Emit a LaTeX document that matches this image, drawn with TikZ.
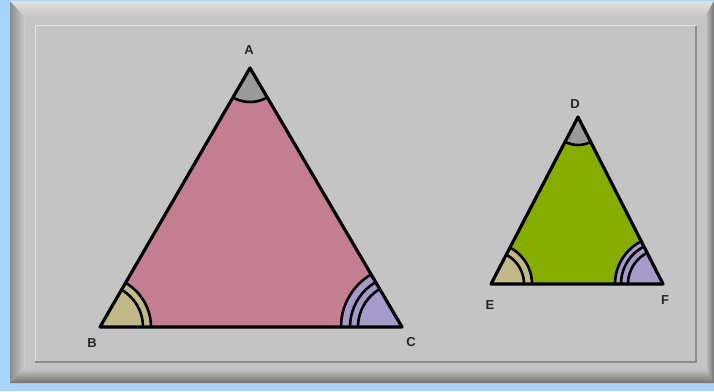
\documentclass[tikz,border=0pt]{standalone}
\usepackage{fontspec}
\setmainfont{Liberation Sans}
\begin{document}
\begin{tikzpicture}[x=1pt,y=1pt,
  lbl/.style={font=\fontsize{13}{15}\selectfont\bfseries, text=black!85, inner sep=0pt},
  tri/.style={draw=black, line width=3.2pt, line join=round},
  arcl/.style={draw=black, line width=2.6pt}]
\definecolor{sky}{HTML}{A8D3FA}
\definecolor{panel}{HTML}{C4C4C4}
\definecolor{pinkf}{HTML}{C47E92}
\definecolor{tanf}{HTML}{C2B98B}
\definecolor{lavf}{HTML}{A69BC8}
\definecolor{grayf}{HTML}{9A9A9A}
\definecolor{greenf}{HTML}{87AD00}
\useasboundingbox (0,0) rectangle (714,391);
\fill[sky] (0,0) rectangle (714,391);
% frame
\fill[panel] (10,8) rectangle (714,390);
\shade[left color=black!45, right color=black!20] (10,8) -- (10,390) -- (25,374) -- (25,21) -- cycle;
\shade[top color=black!12, bottom color=black!22] (10,390) -- (714,390) -- (705,374) -- (25,374) -- cycle;
\shade[left color=black!22, right color=black!55] (714,390) -- (714,8) -- (705,21) -- (705,374) -- cycle;
\shade[top color=black!25, bottom color=black!55] (10,8) -- (714,8) -- (705,21) -- (25,21) -- cycle;
% inner panel
\draw[black!12, line width=1pt] (35,29) -- (35,365) -- (696,365);
\draw[black!45, line width=1.2pt] (35,29) -- (696,29) -- (696,365);
% triangle ABC
\coordinate (A) at (250,323);
\coordinate (B) at (100,64);
\coordinate (C) at (402,64);
\fill[pinkf] (A) -- (B) -- (C) -- cycle;
\begin{scope}
  \clip (A) -- (B) -- (C) -- cycle;
  \fill[grayf] (A) circle[radius=34];
  \draw[arcl] (A) circle[radius=34];
  \fill[tanf] (B) circle[radius=51];
  \draw[arcl] (B) circle[radius=51];
  \draw[arcl] (B) circle[radius=43];
  \fill[lavf] (C) circle[radius=61];
  \draw[arcl] (C) circle[radius=61];
  \draw[arcl] (C) circle[radius=52];
  \draw[arcl] (C) circle[radius=44];
\end{scope}
\draw[tri] (A) -- (B) -- (C) -- cycle;
% triangle DEF
\coordinate (D) at (578,274);
\coordinate (E) at (491,107);
\coordinate (F) at (663,107);
\fill[greenf] (D) -- (E) -- (F) -- cycle;
\begin{scope}
  \clip (D) -- (E) -- (F) -- cycle;
  \fill[grayf] (D) circle[radius=28];
  \draw[arcl] (D) circle[radius=28];
  \fill[tanf] (E) circle[radius=41];
  \draw[arcl] (E) circle[radius=41];
  \draw[arcl] (E) circle[radius=33];
  \fill[lavf] (F) circle[radius=48];
  \draw[arcl] (F) circle[radius=48];
  \draw[arcl] (F) circle[radius=42];
  \draw[arcl] (F) circle[radius=35];
\end{scope}
\draw[tri] (D) -- (E) -- (F) -- cycle;
% labels
\node[lbl] (la) at (249,341) {A};
\node[lbl] (lb) at (92,48) {B};
\node[lbl] (lc) at (411,49) {C};
\node[lbl] (ld) at (575,287) {D};
\node[lbl] (le) at (490,86) {E};
\node[lbl] (lf) at (665,91) {F};
\end{tikzpicture}
\end{document}
